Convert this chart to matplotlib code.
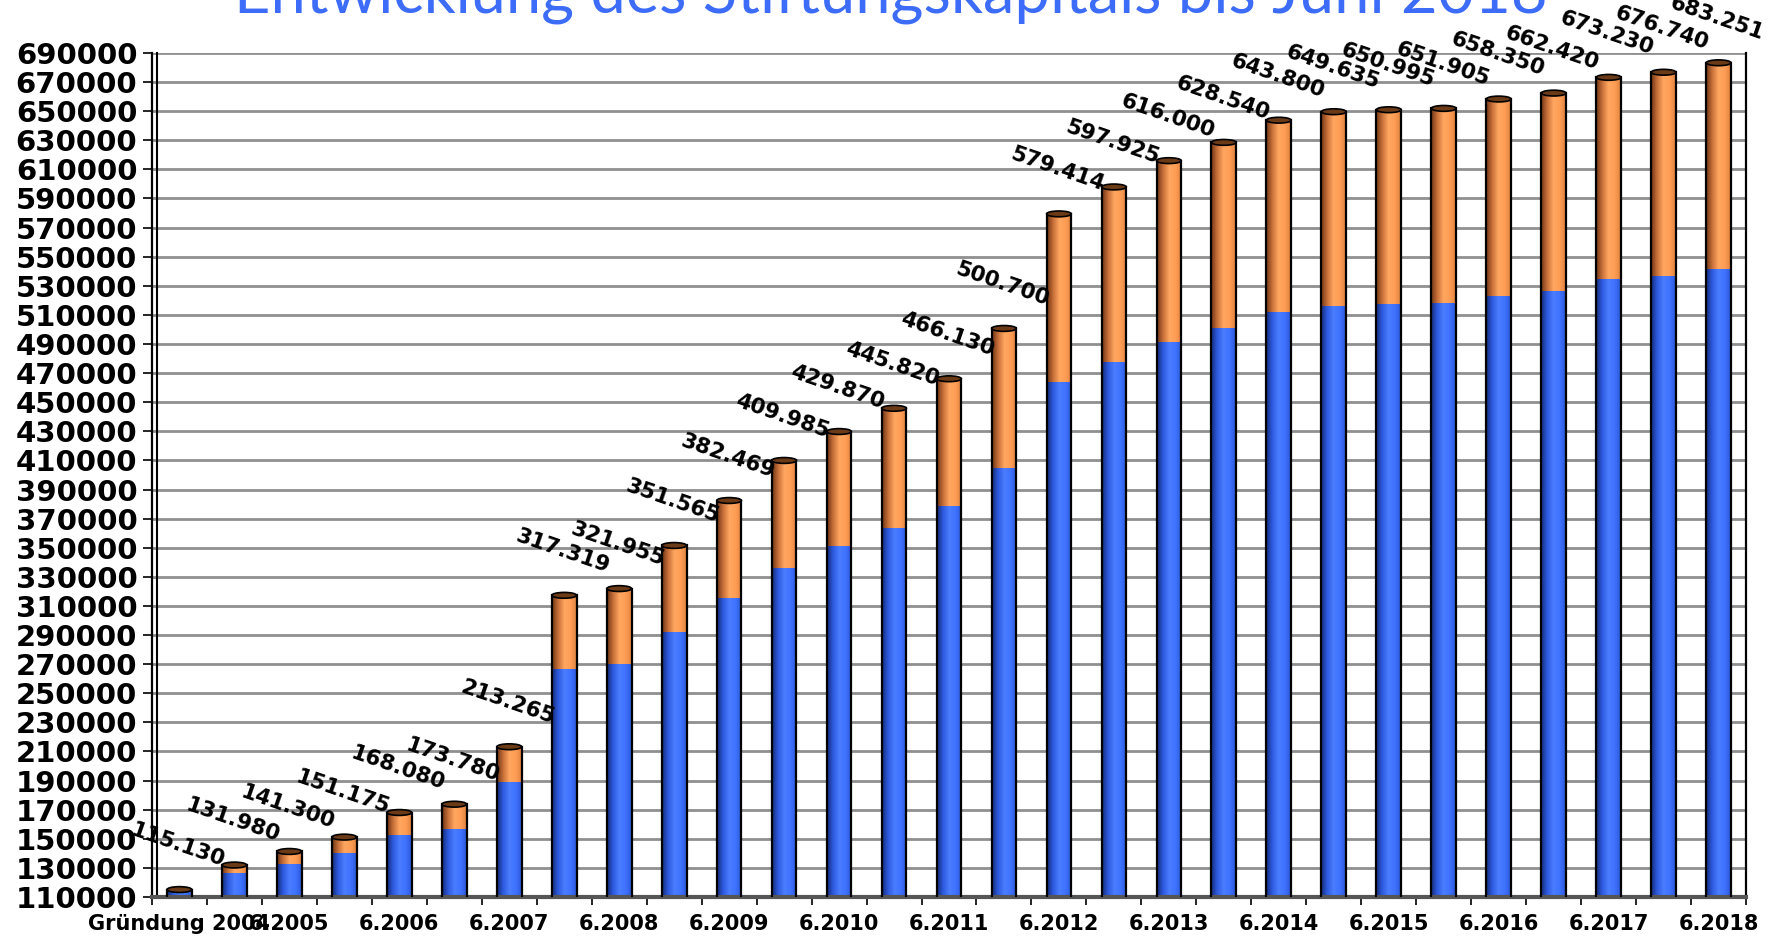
import numpy as np
import matplotlib
matplotlib.use("Agg")
import matplotlib.pyplot as plt
from matplotlib.colors import LinearSegmentedColormap
from matplotlib.patches import Ellipse

TITLE = "Entwicklung des Stiftungskapitals bis Juni 2018"

# total capital at each date (values of the data labels)
totals = [115130, 131980, 141300, 151175, 168080, 173780, 213265, 317319,
          321955, 351565, 382469, 409985, 429870, 445820, 466130, 500700,
          579414, 597925, 616000, 628540, 643800, 649635, 650995, 651905,
          658350, 662420, 673230, 676740, 683251]

# lower (blue) part of each bar
base = [113700, 126400, 132800, 140200, 152800, 156900, 188700, 266600,
        270000, 292300, 315600, 336300, 351300, 363400, 378400, 404600,
        463800, 477700, 491200, 500700, 512100, 516400, 517600, 518500,
        523100, 526200, 534400, 536700, 541700]

# only every second date is labelled on the x axis
x_labels = ["Gründung 2004", "6.2005", "6.2006", "6.2007", "6.2008",
            "6.2009", "6.2010", "6.2011", "6.2012", "6.2013", "6.2014",
            "6.2015", "6.2016", "6.2017", "6.2018"]

y_ticks = list(range(110000, 690001, 20000))

BLUE = "#3a6cf7"
ORANGE = "#f7964f"

blue_cmap = LinearSegmentedColormap.from_list(
    "cyl_blue", ["#142b78", "#2e5be0", "#4a7dff", "#3f72ff", "#2c58d8"])
orange_cmap = LinearSegmentedColormap.from_list(
    "cyl_orange", ["#6e3512", "#c9703a", "#ffa760", "#ff9d55", "#e0843f"])


def cylinder(ax, bars, cmap):
    # Painted a horizontal gradient into each bar to fake the 3D look
    grad = np.linspace(0, 1, 128).reshape(1, -1)
    for b in bars:
        x0, y0 = b.get_x(), b.get_y()
        w, h = b.get_width(), b.get_height()
        ax.imshow(grad, cmap=cmap, extent=[x0, x0 + w, y0, y0 + h],
                  aspect="auto", interpolation="bilinear", zorder=2)


def main():
    fig = plt.figure(figsize=(17.81, 9.39), dpi=100)
    ax = fig.add_axes([0.0853, 0.0447, 0.8951, 0.8989])

    x = np.arange(len(totals))
    top = np.array(totals) - np.array(base)
    width = 0.45

    b1 = ax.bar(x, base, width, color=BLUE, zorder=2)
    b2 = ax.bar(x, top, width, bottom=base, color=ORANGE, zorder=2)
    cylinder(ax, b1, blue_cmap)
    cylinder(ax, b2, orange_cmap)
    ax.bar(x, totals, width, fill=False, edgecolor="black", lw=1.6, zorder=3)

    # cylinder lids
    for xi, t in zip(x, totals):
        ax.add_patch(Ellipse((xi, t), width, 4000, facecolor="#6b3a17",
                             edgecolor="black", lw=1.2, zorder=4))

    # rotated value labels
    for xi, t in zip(x, totals):
        ax.annotate(f"{t:,}".replace(",", "."), (xi, t), xytext=(-1, 32),
                    textcoords="offset points", ha="center", va="center",
                    rotation=-19, fontsize=15.5, fontweight="bold",
                    family="DejaVu Sans", zorder=5, annotation_clip=False)

    ax.set_xlim(-0.5, len(totals) - 0.5)
    ax.set_ylim(110000, 690000)

    ax.set_yticks(y_ticks)
    ax.set_yticklabels([str(v) for v in y_ticks], fontsize=21,
                       fontweight="bold")
    ax.tick_params(axis="y", length=6.5, width=1.2, pad=4)

    ax.set_xticks(np.arange(-0.5, len(totals), 1))
    ax.set_xticklabels([])
    ax.tick_params(axis="x", which="major", length=6, width=1.2)
    ax.set_xticks(x[::2], minor=True)
    ax.set_xticklabels(x_labels, minor=True, fontsize=15, fontweight="bold")
    ax.tick_params(axis="x", which="minor", length=0, pad=12)

    ax.yaxis.grid(True, color="#8f8f8f", lw=2)
    ax.set_axisbelow(True)

    ax.spines["top"].set_visible(False)
    ax.spines["left"].set_linewidth(1.6)
    ax.spines["right"].set_linewidth(1.6)
    ax.spines["bottom"].set_color("#555555")
    ax.spines["bottom"].set_linewidth(3)
    # second wall line next to the y axis
    ax.plot([0.003, 0.003], [0, 1], transform=ax.transAxes, color="black",
            lw=1.5, clip_on=False)

    fig.text(0.5, 0.987, TITLE, ha="center", va="baseline", fontsize=45.5,
             color="#3c6cf8", family="Lato")

    fig.savefig("out.png", dpi=100)
    plt.close(fig)


if __name__ == "__main__":
    main()
